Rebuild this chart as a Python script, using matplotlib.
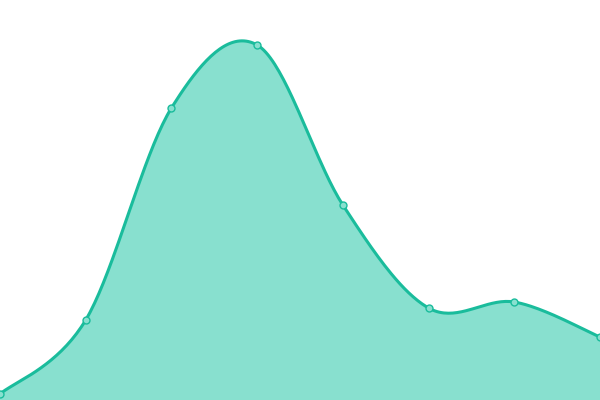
import numpy as np
import matplotlib
matplotlib.use("Agg")
import matplotlib.pyplot as plt

# Data
x_vals = [0, 1, 2, 3, 4, 5, 6, 7]
y_vals = [6, 80, 292, 355, 195, 92, 98, 63]

LINE = "#1abc9c"
FILL = "#88e0cf"

def cardinal(xs, ys, n=40):
    xs = np.asarray(xs, float); ys = np.asarray(ys, float)
    px = np.concatenate([[xs[0]], xs, [xs[-1]]])
    py = np.concatenate([[ys[0]], ys, [ys[-1]]])
    ox, oy = [], []
    t = np.linspace(0, 1, n)
    h00 = 2*t**3 - 3*t**2 + 1
    h10 = t**3 - 2*t**2 + t
    h01 = -2*t**3 + 3*t**2
    h11 = t**3 - t**2
    for i in range(1, len(px) - 2):
        m0x = (px[i+1] - px[i-1]) / 2; m0y = (py[i+1] - py[i-1]) / 2
        m1x = (px[i+2] - px[i]) / 2; m1y = (py[i+2] - py[i]) / 2
        ox.append(h00*px[i] + h10*m0x + h01*px[i+1] + h11*m1x)
        oy.append(h00*py[i] + h10*m0y + h01*py[i+1] + h11*m1y)
    return np.concatenate(ox), np.concatenate(oy)

fig = plt.figure(figsize=(6, 4), dpi=100)
ax = fig.add_axes([0, 0, 1, 1])
sx, sy = cardinal(x_vals, y_vals)
ax.fill_between(sx, sy, 0, color=FILL, linewidth=0)
ax.plot(sx, sy, color=LINE, linewidth=2.2, solid_capstyle="round")
ax.plot(x_vals, y_vals, linestyle="none", marker="o", markersize=5,
        markerfacecolor=FILL, markeredgecolor=LINE, markeredgewidth=1, clip_on=False)
ax.set_xlim(0, 7)
ax.set_ylim(0, 400)
ax.axis("off")
fig.savefig("out.png", dpi=100)
